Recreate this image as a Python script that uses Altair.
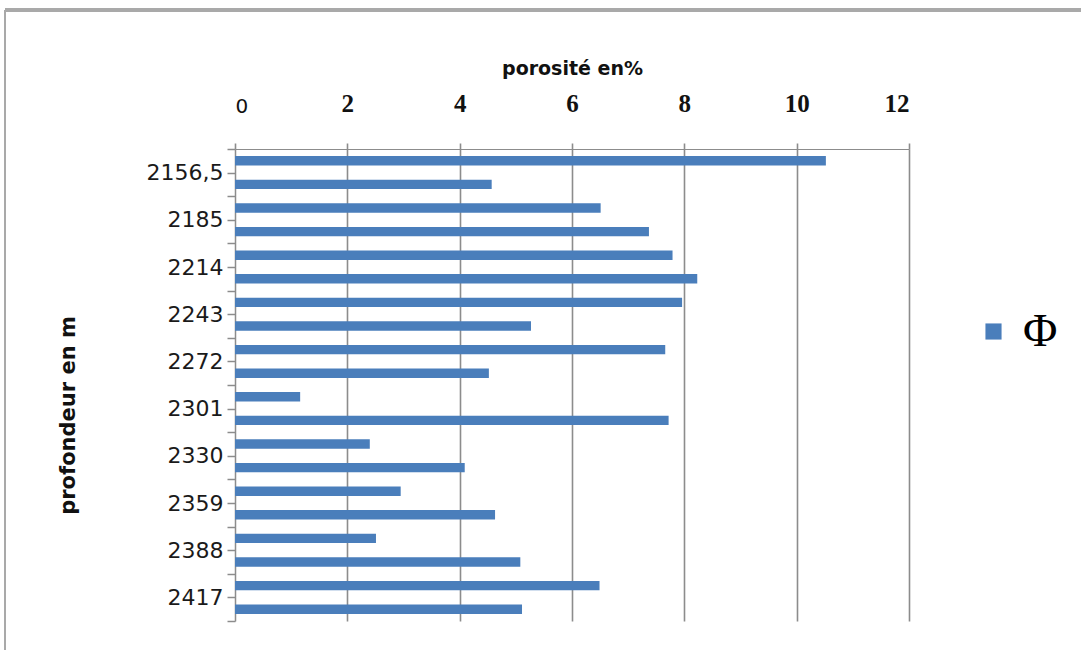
import altair as alt
import pandas as pd

# Porosity (%) of the 20 samples, top to bottom
porosity = [10.52, 4.57, 6.51, 7.37, 7.79, 8.23, 7.96, 5.27, 7.66, 4.52,
            1.16, 7.72, 2.40, 4.09, 2.95, 4.63, 2.51, 5.08, 6.49, 5.11]
# Depth labels shown on every second boundary of the depth axis
depth_labels = ["2156,5", "2185", "2214", "2243", "2272",
                "2301", "2330", "2359", "2388", "2417"]
x_ticks = [0, 2, 4, 6, 8, 10, 12]
series_name = "\u03a6"

df = pd.DataFrame({
    "idx": list(range(len(porosity))),
    "porosite": porosity,
    "serie": [series_name] * len(porosity),
})

GRID = "#8c8c8c"
BAR = "#4a7ebb"

label_array = "[" + ",".join("'" + s + "'" for s in depth_labels) + "]"

bars = alt.Chart(df).transform_calculate(
    y0="datum.idx + 0.3", y1="datum.idx + 0.7"
).mark_bar(orient="horizontal").encode(
    x=alt.X(
        "porosite:Q",
        scale=alt.Scale(domain=[0, 12], nice=False, padding=0),
        axis=alt.Axis(
            orient="top",
            values=x_ticks,
            title="porosit\u00e9 en%",
            titleFont="DejaVu Sans",
            titleFontWeight="bold",
            titleFontSize=19,
            titleColor="#111111",
            titleX=337,
            titleY=-75,
            titleAlign="center",
            titleBaseline="alphabetic",
            grid=True,
            gridColor=GRID,
            gridWidth=1.6,
            gridOpacity={"condition": {"test": "datum.value == 0", "value": 0},
                         "value": 1},
            domainColor=GRID,
            domainWidth=1.2,
            tickColor=GRID,
            tickWidth=1.6,
            tickSize=6,
            labelPadding=27,
            labelColor="#111111",
            labelFont={"condition": {"test": "datum.value == 0", "value": "DejaVu Sans"},
                       "value": "Liberation Serif"},
            labelFontWeight={"condition": {"test": "datum.value == 0", "value": "normal"},
                             "value": "bold"},
            labelFontSize={"condition": {"test": "datum.value == 0", "value": 20},
                           "value": 25},
        ),
    ),
    x2=alt.datum(0),
    y=alt.Y(
        "y0:Q",
        scale=alt.Scale(domain=[0, 20], reverse=True, nice=False, padding=0),
        axis=alt.Axis(
            orient="left",
            values=list(range(21)),
            labelExpr="datum.value % 2 == 1 ? " + label_array + "[floor(datum.value / 2)] : ''",
            grid=False,
            domainColor=GRID,
            domainWidth=1.5,
            tickColor=GRID,
            tickWidth=1.5,
            tickSize=8,
            labelPadding=4,
            labelFont="DejaVu Sans",
            labelFontSize=22,
            labelColor="#1a1a1a",
            title="profondeur en m",
            titleFont="DejaVu Sans",
            titleFontWeight="bold",
            titleFontSize=21,
            titleColor="#111111",
            titleAngle=270,
            titleX=-167,
            titleY=266,
            titleAlign="center",
            titleBaseline="middle",
        ),
    ),
    y2="y1:Q",
    color=alt.Color(
        "serie:N",
        scale=alt.Scale(range=[BAR]),
        legend=alt.Legend(
            title=None,
            orient="none",
            legendX=735,
            legendY=159,
            padding=0,
            symbolType="square",
            symbolSize=260,
            symbolStrokeWidth=0,
            symbolOpacity=1,
            labelFont="Liberation Serif",
            labelFontSize=47,
            labelColor="#000000",
            labelOffset=6,
        ),
    ),
)

# Chart-area frame (top and left edges)
frame_df = pd.DataFrame({"a": [0]})
frame_top = alt.Chart(frame_df).mark_rule(color="#a9a9a9", strokeWidth=4).encode(
    x=alt.value(-230), x2=alt.value(846), y=alt.value(-139)
)
frame_left = alt.Chart(frame_df).mark_rule(color="#a9a9a9", strokeWidth=2).encode(
    x=alt.value(-230), y=alt.value(-139), y2=alt.value(501)
)

chart = alt.layer(bars, frame_top, frame_left).properties(
    width=674,
    height=472,
    padding={"left": 235, "top": 149, "right": 172, "bottom": 29},
    autosize=alt.AutoSizeParams(type="none"),
    background="white",
).configure_view(stroke=None)

chart.save("out.html", embed_options={"renderer": "svg", "actions": False})
